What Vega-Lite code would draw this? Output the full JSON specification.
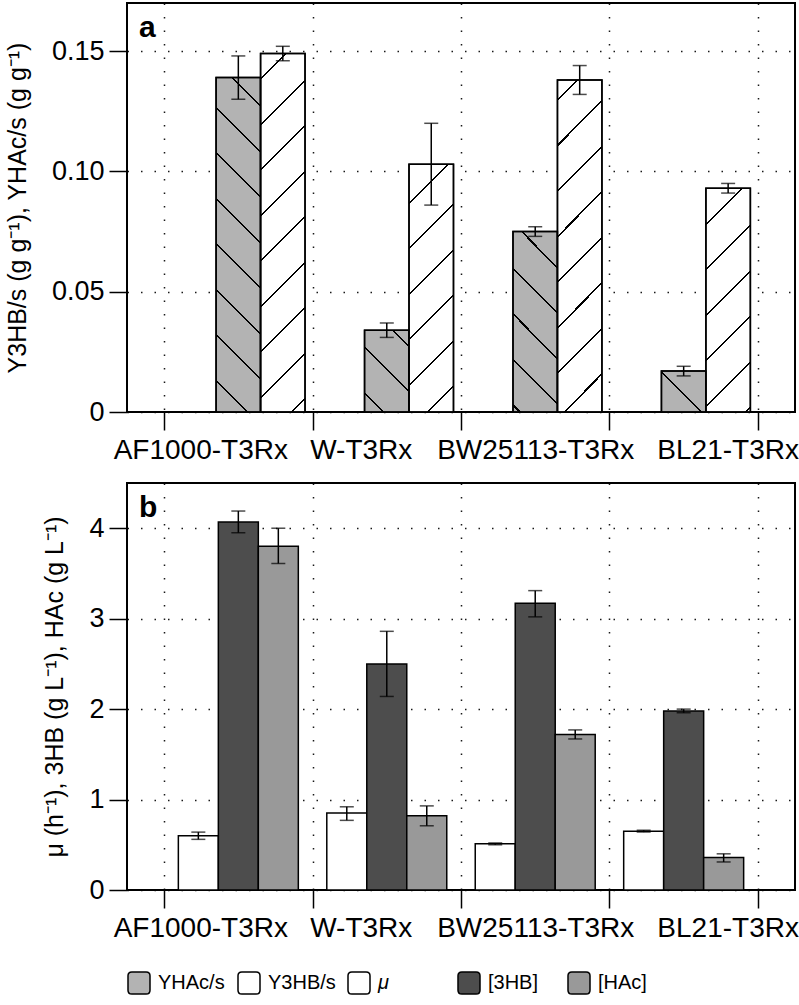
{
  "$schema": "https://vega.github.io/schema/vega-lite/v6.json",
  "padding": {"left": 4, "top": 2, "right": 2, "bottom": 2},
  "config": {
    "font": "Liberation Sans",
    "view": {"stroke": "black", "strokeWidth": 2},
    "axis": {
      "domain": false,
      "tickColor": "black",
      "tickWidth": 1.5,
      "tickSize": 18,
      "labelColor": "black",
      "titleColor": "black",
      "grid": true,
      "gridColor": "black",
      "gridDash": [1.5, 12],
      "gridWidth": 1.5,
      "gridOpacity": 0.9
    }
  },
  "datasets": {
    "yields": [
      {"strain": "AF1000-T3Rx", "measure": "YHAc/s", "value": 0.139, "lo": 0.130, "hi": 0.148},
      {"strain": "AF1000-T3Rx", "measure": "Y3HB/s", "value": 0.149, "lo": 0.146, "hi": 0.152},
      {"strain": "W-T3Rx", "measure": "YHAc/s", "value": 0.034, "lo": 0.031, "hi": 0.037},
      {"strain": "W-T3Rx", "measure": "Y3HB/s", "value": 0.103, "lo": 0.086, "hi": 0.120},
      {"strain": "BW25113-T3Rx", "measure": "YHAc/s", "value": 0.075, "lo": 0.073, "hi": 0.077},
      {"strain": "BW25113-T3Rx", "measure": "Y3HB/s", "value": 0.138, "lo": 0.132, "hi": 0.144},
      {"strain": "BL21-T3Rx", "measure": "YHAc/s", "value": 0.017, "lo": 0.015, "hi": 0.019},
      {"strain": "BL21-T3Rx", "measure": "Y3HB/s", "value": 0.093, "lo": 0.091, "hi": 0.095}
    ],
    "growth": [
      {"strain": "AF1000-T3Rx", "measure": "μ", "value": 0.60, "lo": 0.56, "hi": 0.64},
      {"strain": "AF1000-T3Rx", "measure": "[3HB]", "value": 4.07, "lo": 3.95, "hi": 4.19},
      {"strain": "AF1000-T3Rx", "measure": "[HAc]", "value": 3.80, "lo": 3.61, "hi": 4.00},
      {"strain": "W-T3Rx", "measure": "μ", "value": 0.85, "lo": 0.77, "hi": 0.92},
      {"strain": "W-T3Rx", "measure": "[3HB]", "value": 2.50, "lo": 2.14, "hi": 2.86},
      {"strain": "W-T3Rx", "measure": "[HAc]", "value": 0.82, "lo": 0.71, "hi": 0.93},
      {"strain": "BW25113-T3Rx", "measure": "μ", "value": 0.51, "lo": 0.50, "hi": 0.52},
      {"strain": "BW25113-T3Rx", "measure": "[3HB]", "value": 3.17, "lo": 3.02, "hi": 3.31},
      {"strain": "BW25113-T3Rx", "measure": "[HAc]", "value": 1.72, "lo": 1.67, "hi": 1.77},
      {"strain": "BL21-T3Rx", "measure": "μ", "value": 0.65, "lo": 0.64, "hi": 0.66},
      {"strain": "BL21-T3Rx", "measure": "[3HB]", "value": 1.98, "lo": 1.96, "hi": 2.00},
      {"strain": "BL21-T3Rx", "measure": "[HAc]", "value": 0.36, "lo": 0.31, "hi": 0.40}
    ]
  },
  "spacing": 71,
  "bounds": "flush",
  "resolve": {"scale": {"fill": "shared", "x": "independent", "xOffset": "independent", "y": "independent"}},
  "vconcat": [
    {
      "width": 668,
      "height": 409,
      "title": {"text": "a", "anchor": "start", "frame": "group", "fontSize": 30, "fontWeight": "bold", "offset": -40, "dx": 12, "color": "black"},
      "data": {"name": "yields"},
      "encoding": {
        "x": {
          "field": "strain", "type": "nominal",
          "sort": ["AF1000-T3Rx", "W-T3Rx", "BW25113-T3Rx", "BL21-T3Rx"],
          "scale": {"paddingInner": 0, "paddingOuter": 0.25},
          "axis": {
            "title": null, "tickBand": "extent", "labelAngle": 0, "labelFontSize": 28, "labelPadding": 6, "labelLimit": 0,
            "labelOffset": {"condition": [
              {"test": "datum.value === 'AF1000-T3Rx'", "value": -38},
              {"test": "datum.value === 'W-T3Rx'", "value": -26},
              {"test": "datum.value === 'BL21-T3Rx'", "value": 44}
            ], "value": 0}
          }
        },
        "xOffset": {"field": "measure", "type": "nominal", "scale": {"domain": ["-", "YHAc/s", "Y3HB/s"], "paddingInner": 0, "paddingOuter": 0.169}}
      },
      "layer": [
        {
          "mark": {"type": "bar", "stroke": "black", "strokeWidth": 1.5},
          "encoding": {
            "y": {
              "field": "value", "type": "quantitative",
              "scale": {"domain": [0, 0.17], "nice": false, "zero": true},
              "axis": {
                "values": [0, 0.05, 0.1, 0.15], "labelFontSize": 27, "labelPadding": 5,
                "labelExpr": "datum.value == 0 ? '0' : format(datum.value, '.2f')",
                "title": "Y3HB/s (g g⁻¹), YHAc/s (g g⁻¹)", "titleFontSize": 25, "titleFontWeight": "normal", "titlePadding": 21
              }
            },
            "fill": {
              "field": "measure", "type": "nominal",
              "scale": {"domain": ["YHAc/s", "Y3HB/s", "μ", "[3HB]", "[HAc]"], "range": ["#b3b3b3", "#ffffff", "#ffffff", "#4d4d4d", "#999999"]},
              "legend": {
                "orient": "bottom", "direction": "horizontal", "columns": 5, "gridAlign": "all", "title": null,
                "labelFontSize": 20, "labelColor": "black",
                "labelFontStyle": {"expr": "datum.value === 'μ' ? 'italic' : 'normal'"},
                "symbolType": "M-0.65,-1L0.65,-1Q1,-1 1,-0.65L1,0.65Q1,1 0.65,1L-0.65,1Q-1,1 -1,0.65L-1,-0.65Q-1,-1 -0.65,-1Z",
                "symbolSize": 484, "symbolStrokeColor": "black", "symbolStrokeWidth": 1.5, "labelOffset": 7, "columnPadding": 9, "offset": 28
              }
            }
          }
        },
        {
          "mark": {"type": "bar", "stroke": "black", "strokeWidth": 1.5},
          "encoding": {
            "y": {"field": "value", "type": "quantitative"},
            "fill": {
              "condition": [
                {"test": "datum.strain === 'AF1000-T3Rx' && datum.measure === 'YHAc/s'", "value": {"gradient": "linear", "x1": 0, "y1": 1, "x2": 0.1484, "y2": -0.1135, "stops": [
                  {"offset": 0, "color": "transparent"},
                  {"offset": 0.0807, "color": "transparent"}, {"offset": 0.0807, "color": "black"}, {"offset": 0.0859, "color": "black"}, {"offset": 0.0859, "color": "transparent"},
                  {"offset": 0.2008, "color": "transparent"}, {"offset": 0.2008, "color": "black"}, {"offset": 0.2060, "color": "black"}, {"offset": 0.2060, "color": "transparent"},
                  {"offset": 0.3209, "color": "transparent"}, {"offset": 0.3209, "color": "black"}, {"offset": 0.3261, "color": "black"}, {"offset": 0.3261, "color": "transparent"},
                  {"offset": 0.4410, "color": "transparent"}, {"offset": 0.4410, "color": "black"}, {"offset": 0.4462, "color": "black"}, {"offset": 0.4462, "color": "transparent"},
                  {"offset": 0.5611, "color": "transparent"}, {"offset": 0.5611, "color": "black"}, {"offset": 0.5663, "color": "black"}, {"offset": 0.5663, "color": "transparent"},
                  {"offset": 0.6811, "color": "transparent"}, {"offset": 0.6811, "color": "black"}, {"offset": 0.6863, "color": "black"}, {"offset": 0.6863, "color": "transparent"},
                  {"offset": 0.8012, "color": "transparent"}, {"offset": 0.8012, "color": "black"}, {"offset": 0.8064, "color": "black"}, {"offset": 0.8064, "color": "transparent"},
                  {"offset": 0.9213, "color": "transparent"}, {"offset": 0.9213, "color": "black"}, {"offset": 0.9265, "color": "black"}, {"offset": 0.9265, "color": "transparent"},
                  {"offset": 1, "color": "transparent"}
                ]}},
                {"test": "datum.strain === 'W-T3Rx' && datum.measure === 'YHAc/s'", "value": {"gradient": "linear", "x1": 0, "y1": 1, "x2": 0.6492, "y2": -0.1912, "stops": [
                  {"offset": 0, "color": "transparent"},
                  {"offset": 0.1452, "color": "transparent"}, {"offset": 0.1452, "color": "black"}, {"offset": 0.1610, "color": "black"}, {"offset": 0.1610, "color": "transparent"},
                  {"offset": 0.5053, "color": "transparent"}, {"offset": 0.5053, "color": "black"}, {"offset": 0.5211, "color": "black"}, {"offset": 0.5211, "color": "transparent"},
                  {"offset": 0.8654, "color": "transparent"}, {"offset": 0.8654, "color": "black"}, {"offset": 0.8812, "color": "black"}, {"offset": 0.8812, "color": "transparent"},
                  {"offset": 1, "color": "transparent"}
                ]}},
                {"test": "datum.strain === 'BW25113-T3Rx' && datum.measure === 'YHAc/s'", "value": {"gradient": "linear", "x1": 0, "y1": 1, "x2": 0.2904, "y2": -0.1753, "stops": [
                  {"offset": 0, "color": "transparent"},
                  {"offset": 0.0267, "color": "transparent"}, {"offset": 0.0267, "color": "black"}, {"offset": 0.0357, "color": "black"}, {"offset": 0.0357, "color": "transparent"},
                  {"offset": 0.2289, "color": "transparent"}, {"offset": 0.2289, "color": "black"}, {"offset": 0.2379, "color": "black"}, {"offset": 0.2379, "color": "transparent"},
                  {"offset": 0.4312, "color": "transparent"}, {"offset": 0.4312, "color": "black"}, {"offset": 0.4402, "color": "black"}, {"offset": 0.4402, "color": "transparent"},
                  {"offset": 0.6334, "color": "transparent"}, {"offset": 0.6334, "color": "black"}, {"offset": 0.6424, "color": "black"}, {"offset": 0.6424, "color": "transparent"},
                  {"offset": 0.8357, "color": "transparent"}, {"offset": 0.8357, "color": "black"}, {"offset": 0.8447, "color": "black"}, {"offset": 0.8447, "color": "transparent"},
                  {"offset": 1, "color": "transparent"}
                ]}},
                {"test": "datum.strain === 'BL21-T3Rx' && datum.measure === 'YHAc/s'", "value": {"gradient": "linear", "x1": 0, "y1": 1, "x2": 1.0411, "y2": 0.0448, "stops": [
                  {"offset": 0, "color": "transparent"},
                  {"offset": 0.4597, "color": "transparent"}, {"offset": 0.4597, "color": "black"}, {"offset": 0.4831, "color": "black"}, {"offset": 0.4831, "color": "transparent"},
                  {"offset": 1, "color": "transparent"}
                ]}},
                {"test": "datum.strain === 'AF1000-T3Rx' && datum.measure === 'Y3HB/s'", "value": {"gradient": "linear", "x1": 0, "y1": 0, "x2": 0.1377, "y2": 1.1072, "stops": [
                  {"offset": 0, "color": "transparent"},
                  {"offset": 0.0609, "color": "transparent"}, {"offset": 0.0609, "color": "black"}, {"offset": 0.0659, "color": "black"}, {"offset": 0.0659, "color": "transparent"},
                  {"offset": 0.1738, "color": "transparent"}, {"offset": 0.1738, "color": "black"}, {"offset": 0.1788, "color": "black"}, {"offset": 0.1788, "color": "transparent"},
                  {"offset": 0.2868, "color": "transparent"}, {"offset": 0.2868, "color": "black"}, {"offset": 0.2918, "color": "black"}, {"offset": 0.2918, "color": "transparent"},
                  {"offset": 0.3997, "color": "transparent"}, {"offset": 0.3997, "color": "black"}, {"offset": 0.4047, "color": "black"}, {"offset": 0.4047, "color": "transparent"},
                  {"offset": 0.5126, "color": "transparent"}, {"offset": 0.5126, "color": "black"}, {"offset": 0.5176, "color": "black"}, {"offset": 0.5176, "color": "transparent"},
                  {"offset": 0.6255, "color": "transparent"}, {"offset": 0.6255, "color": "black"}, {"offset": 0.6305, "color": "black"}, {"offset": 0.6305, "color": "transparent"},
                  {"offset": 0.7384, "color": "transparent"}, {"offset": 0.7384, "color": "black"}, {"offset": 0.7434, "color": "black"}, {"offset": 0.7434, "color": "transparent"},
                  {"offset": 0.8513, "color": "transparent"}, {"offset": 0.8513, "color": "black"}, {"offset": 0.8563, "color": "black"}, {"offset": 0.8563, "color": "transparent"},
                  {"offset": 0.9642, "color": "transparent"}, {"offset": 0.9642, "color": "black"}, {"offset": 0.9692, "color": "black"}, {"offset": 0.9692, "color": "transparent"},
                  {"offset": 1, "color": "transparent"}
                ]}},
                {"test": "datum.strain === 'W-T3Rx' && datum.measure === 'Y3HB/s'", "value": {"gradient": "linear", "x1": 0, "y1": 0, "x2": 0.2056, "y2": 1.1429, "stops": [
                  {"offset": 0, "color": "transparent"},
                  {"offset": 0.1307, "color": "transparent"}, {"offset": 0.1307, "color": "black"}, {"offset": 0.1375, "color": "black"}, {"offset": 0.1375, "color": "transparent"},
                  {"offset": 0.2863, "color": "transparent"}, {"offset": 0.2863, "color": "black"}, {"offset": 0.2931, "color": "black"}, {"offset": 0.2931, "color": "transparent"},
                  {"offset": 0.4420, "color": "transparent"}, {"offset": 0.4420, "color": "black"}, {"offset": 0.4488, "color": "black"}, {"offset": 0.4488, "color": "transparent"},
                  {"offset": 0.5976, "color": "transparent"}, {"offset": 0.5976, "color": "black"}, {"offset": 0.6044, "color": "black"}, {"offset": 0.6044, "color": "transparent"},
                  {"offset": 0.7533, "color": "transparent"}, {"offset": 0.7533, "color": "black"}, {"offset": 0.7601, "color": "black"}, {"offset": 0.7601, "color": "transparent"},
                  {"offset": 0.9089, "color": "transparent"}, {"offset": 0.9089, "color": "black"}, {"offset": 0.9157, "color": "black"}, {"offset": 0.9157, "color": "transparent"},
                  {"offset": 1, "color": "transparent"}
                ]}},
                {"test": "datum.strain === 'BW25113-T3Rx' && datum.measure === 'Y3HB/s'", "value": {"gradient": "linear", "x1": 0, "y1": 0, "x2": 0.1496, "y2": 1.1142, "stops": [
                  {"offset": 0, "color": "transparent"},
                  {"offset": 0.0505, "color": "transparent"}, {"offset": 0.0505, "color": "black"}, {"offset": 0.0559, "color": "black"}, {"offset": 0.0559, "color": "transparent"},
                  {"offset": 0.1714, "color": "transparent"}, {"offset": 0.1714, "color": "black"}, {"offset": 0.1768, "color": "black"}, {"offset": 0.1768, "color": "transparent"},
                  {"offset": 0.2922, "color": "transparent"}, {"offset": 0.2922, "color": "black"}, {"offset": 0.2976, "color": "black"}, {"offset": 0.2976, "color": "transparent"},
                  {"offset": 0.4131, "color": "transparent"}, {"offset": 0.4131, "color": "black"}, {"offset": 0.4185, "color": "black"}, {"offset": 0.4185, "color": "transparent"},
                  {"offset": 0.5339, "color": "transparent"}, {"offset": 0.5339, "color": "black"}, {"offset": 0.5393, "color": "black"}, {"offset": 0.5393, "color": "transparent"},
                  {"offset": 0.6548, "color": "transparent"}, {"offset": 0.6548, "color": "black"}, {"offset": 0.6602, "color": "black"}, {"offset": 0.6602, "color": "transparent"},
                  {"offset": 0.7756, "color": "transparent"}, {"offset": 0.7756, "color": "black"}, {"offset": 0.7810, "color": "black"}, {"offset": 0.7810, "color": "transparent"},
                  {"offset": 0.8965, "color": "transparent"}, {"offset": 0.8965, "color": "black"}, {"offset": 0.9019, "color": "black"}, {"offset": 0.9019, "color": "transparent"},
                  {"offset": 1, "color": "transparent"}
                ]}},
                {"test": "datum.strain === 'BL21-T3Rx' && datum.measure === 'Y3HB/s'", "value": {"gradient": "linear", "x1": 0, "y1": 0, "x2": 0.2298, "y2": 1.1535, "stops": [
                  {"offset": 0, "color": "transparent"},
                  {"offset": 0.1308, "color": "transparent"}, {"offset": 0.1308, "color": "black"}, {"offset": 0.1382, "color": "black"}, {"offset": 0.1382, "color": "transparent"},
                  {"offset": 0.3004, "color": "transparent"}, {"offset": 0.3004, "color": "black"}, {"offset": 0.3078, "color": "black"}, {"offset": 0.3078, "color": "transparent"},
                  {"offset": 0.4700, "color": "transparent"}, {"offset": 0.4700, "color": "black"}, {"offset": 0.4774, "color": "black"}, {"offset": 0.4774, "color": "transparent"},
                  {"offset": 0.6396, "color": "transparent"}, {"offset": 0.6396, "color": "black"}, {"offset": 0.6470, "color": "black"}, {"offset": 0.6470, "color": "transparent"},
                  {"offset": 0.8092, "color": "transparent"}, {"offset": 0.8092, "color": "black"}, {"offset": 0.8166, "color": "black"}, {"offset": 0.8166, "color": "transparent"},
                  {"offset": 0.9789, "color": "transparent"}, {"offset": 0.9789, "color": "black"}, {"offset": 0.9863, "color": "black"}, {"offset": 0.9863, "color": "transparent"},
                  {"offset": 1, "color": "transparent"}
                ]}}
              ],
              "value": "transparent"
            }
          }
        },
        {
          "mark": {"type": "rule", "color": "black", "strokeWidth": 1.5},
          "encoding": {"y": {"field": "lo", "type": "quantitative"}, "y2": {"field": "hi"}}
        },
        {
          "mark": {"type": "tick", "color": "black", "size": 14, "thickness": 1.5, "orient": "horizontal"},
          "encoding": {"y": {"field": "lo", "type": "quantitative"}}
        },
        {
          "mark": {"type": "tick", "color": "black", "size": 14, "thickness": 1.5, "orient": "horizontal"},
          "encoding": {"y": {"field": "hi", "type": "quantitative"}}
        }
      ]
    },
    {
      "width": 668,
      "height": 407,
      "title": {"text": "b", "anchor": "start", "frame": "group", "fontSize": 30, "fontWeight": "bold", "offset": -40, "dx": 12, "color": "black"},
      "data": {"name": "growth"},
      "encoding": {
        "x": {
          "field": "strain", "type": "nominal",
          "sort": ["AF1000-T3Rx", "W-T3Rx", "BW25113-T3Rx", "BL21-T3Rx"],
          "scale": {"paddingInner": 0, "paddingOuter": 0.25},
          "axis": {
            "title": null, "tickBand": "extent", "labelAngle": 0, "labelFontSize": 28, "labelPadding": 6, "labelLimit": 0,
            "labelOffset": {"condition": [
              {"test": "datum.value === 'AF1000-T3Rx'", "value": -38},
              {"test": "datum.value === 'W-T3Rx'", "value": -26},
              {"test": "datum.value === 'BL21-T3Rx'", "value": 44}
            ], "value": 0}
          }
        },
        "xOffset": {"field": "measure", "type": "nominal", "scale": {"domain": ["μ", "[3HB]", "[HAc]"], "paddingInner": 0, "paddingOuter": 0.356}}
      },
      "layer": [
        {
          "mark": {"type": "bar", "stroke": "black", "strokeWidth": 1.5},
          "encoding": {
            "y": {
              "field": "value", "type": "quantitative",
              "scale": {"domain": [0, 4.5], "nice": false, "zero": true},
              "axis": {
                "values": [0, 1, 2, 3, 4], "format": "d", "labelFontSize": 27, "labelPadding": 5,
                "title": "μ (h⁻¹), 3HB (g L⁻¹), HAc (g L⁻¹)", "titleFontSize": 25, "titleFontWeight": "normal", "titlePadding": 21
              }
            },
            "fill": {"field": "measure", "type": "nominal"}
          }
        },
        {
          "mark": {"type": "rule", "color": "black", "strokeWidth": 1.5},
          "encoding": {"y": {"field": "lo", "type": "quantitative"}, "y2": {"field": "hi"}}
        },
        {
          "mark": {"type": "tick", "color": "black", "size": 14, "thickness": 1.5, "orient": "horizontal"},
          "encoding": {"y": {"field": "lo", "type": "quantitative"}}
        },
        {
          "mark": {"type": "tick", "color": "black", "size": 14, "thickness": 1.5, "orient": "horizontal"},
          "encoding": {"y": {"field": "hi", "type": "quantitative"}}
        }
      ]
    }
  ]
}
